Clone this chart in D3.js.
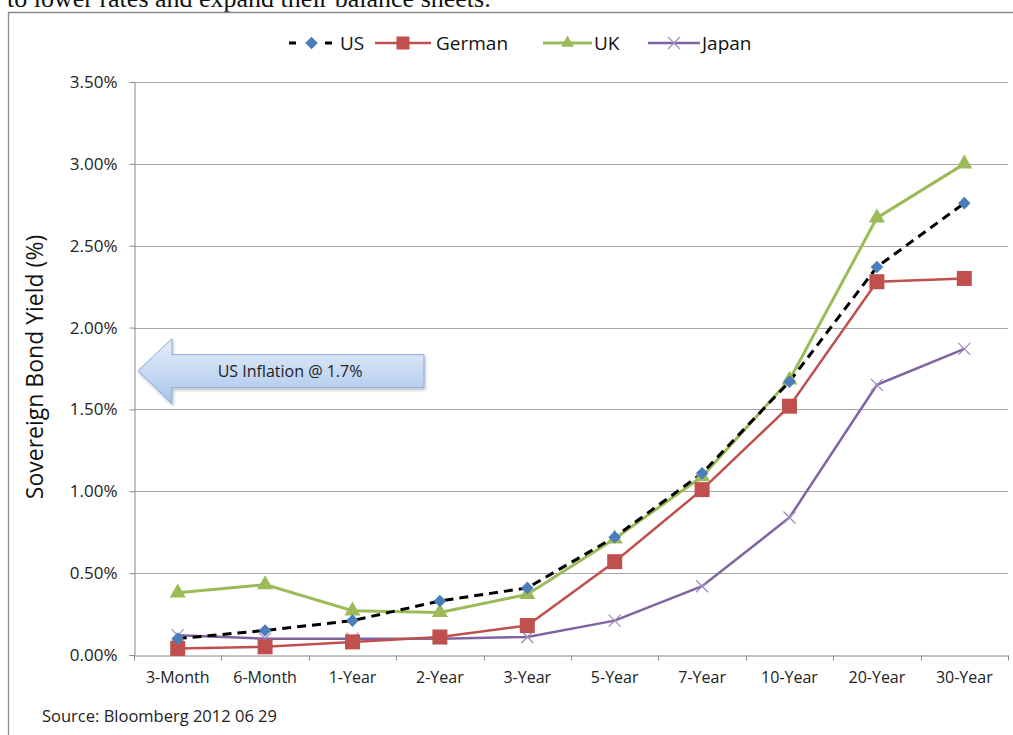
<!DOCTYPE html>
<html>
<head>
<meta charset="utf-8">
<script src="https://cdn.jsdelivr.net/npm/d3@7"></script>
<style>
  body { margin: 0; background: #fff; }
  svg { display: block; }
</style>
</head>
<body>
<svg id="chart" width="1013" height="735"></svg>
<script>
// chart data
const tenors = ["3-Month", "6-Month", "1-Year", "2-Year", "3-Year", "5-Year", "7-Year", "10-Year", "20-Year", "30-Year"];
const usYield = [0.10, 0.15, 0.21, 0.33, 0.41, 0.72, 1.11, 1.67, 2.37, 2.76];
const germanYield = [0.04, 0.05, 0.08, 0.11, 0.18, 0.57, 1.01, 1.52, 2.28, 2.30];
const ukYield = [0.38, 0.43, 0.27, 0.26, 0.37, 0.71, 1.09, 1.68, 2.67, 3.00];
const japanYield = [0.12, 0.10, 0.10, 0.10, 0.11, 0.21, 0.42, 0.84, 1.65, 1.87];
const yTicks = [0, 0.5, 1.0, 1.5, 2.0, 2.5, 3.0, 3.5];
const usInflation = 1.7;

const series = [
    { name: "US", values: usYield, line: "#000", width: 3, dash: "9,6", marker: "diamond", fill: "#4a7ebb" },
    { name: "German", values: germanYield, line: "#c0504d", width: 2.5, dash: null, marker: "square", fill: "#c0504d" },
    { name: "UK", values: ukYield, line: "#9bbb59", width: 3, dash: null, marker: "triangle", fill: "#9bbb59" },
    { name: "Japan", values: japanYield, line: "#8064a2", width: 2.5, dash: null, marker: "cross", fill: "#9f8cc0" }
];

const svg = d3.select("#chart");
const font = "'Open Sans', Lato, sans-serif";
const plot = { left: 134, right: 1008, top: 82, bottom: 655 };

const x = d3.scaleBand().domain(tenors).range([plot.left, plot.right]);
const y = d3.scaleLinear().domain([0, 3.5]).range([plot.bottom, plot.top]);

// leftover text from the page above the chart (clipped in the original too)
svg.append("text")
    .attr("x", 7).attr("y", 7)
    .style("font-family", "'Liberation Serif', 'DejaVu Serif', serif")
    .style("font-size", "26px").style("fill", "#111")
    .text("to lower rates and expand their balance sheets.");

// chart frame
svg.append("path")
    .attr("d", "M8.5,740 L8.5,12.5 L1020,12.5")
    .style("fill", "none").style("stroke", "#8a8a8a").style("stroke-width", 1.3);

// gridlines
svg.append("g").selectAll("line")
    .data(yTicks.slice(1))
    .join("line")
    .attr("x1", plot.left).attr("x2", plot.right)
    .attr("y1", d => Math.round(y(d)) + 0.5).attr("y2", d => Math.round(y(d)) + 0.5)
    .style("stroke", "#a6a6a6").style("stroke-width", 1);

// y axis
const yAxis = svg.append("g")
    .attr("transform", `translate(${plot.left + 0.5},0)`)
    .call(d3.axisLeft(y).tickValues(yTicks).tickFormat(d => d.toFixed(2) + "%").tickSize(5).tickPadding(12));
yAxis.select(".domain").style("stroke", "#8a8a8a");
yAxis.selectAll(".tick line").style("stroke", "#8a8a8a");
yAxis.selectAll("text").style("font-family", font).style("font-size", "17px").style("fill", "#222");

// x axis: labels at band centres, ticks at band edges
const xAxis = svg.append("g")
    .attr("transform", `translate(0,${Math.round(plot.bottom) + 0.5})`)
    .call(d3.axisBottom(x).tickSize(0).tickPadding(16));
xAxis.select(".domain").style("stroke", "#8a8a8a");
xAxis.selectAll("text").style("font-family", font).style("font-size", "16px").style("fill", "#222");
xAxis.selectAll(".edge")
    .data(tenors.map(t => x(t)).concat([plot.right]))
    .join("line")
    .attr("class", "edge")
    .attr("x1", d => Math.round(d) + 0.5).attr("x2", d => Math.round(d) + 0.5)
    .attr("y1", 0).attr("y2", 5)
    .style("stroke", "#8a8a8a");

// y title
svg.append("text")
    .attr("transform", "translate(43,367) rotate(-90)")
    .attr("text-anchor", "middle")
    .style("font-family", font).style("font-size", "23px").style("fill", "#111")
    .text("Sovereign Bond Yield (%)");

// source note
svg.append("text")
    .attr("x", 42).attr("y", 722)
    .style("font-family", font).style("font-size", "16.5px").style("fill", "#222")
    .text("Source: Bloomberg 2012 06 29");

// inflation arrow
const defs = svg.append("defs");
const grad = defs.append("linearGradient").attr("id", "arrowGrad")
    .attr("x1", 0).attr("y1", 0).attr("x2", 0).attr("y2", 1);
grad.append("stop").attr("offset", "0%").attr("stop-color", "#e4eefa");
grad.append("stop").attr("offset", "55%").attr("stop-color", "#c5d8f2");
grad.append("stop").attr("offset", "100%").attr("stop-color", "#a6c2ea");
const shadow = defs.append("filter").attr("id", "shadow").attr("x", "-10%").attr("y", "-20%").attr("width", "130%").attr("height", "150%");
shadow.append("feDropShadow").attr("dx", 1).attr("dy", 2).attr("stdDeviation", 1.5).attr("flood-color", "#000").attr("flood-opacity", 0.25);

// the hand-drawn arrow sits a few pixels above the exact 1.7% level
const ay = y(usInflation) - 6;
const tipX = plot.left + 4, headX = 172, endX = 424;
svg.append("path")
    .attr("d", `M${tipX},${ay} L${headX},${ay - 32} L${headX},${ay - 16} L${endX},${ay - 16} ` +
        `L${endX},${ay + 17} L${headX},${ay + 17} L${headX},${ay + 33} Z`)
    .attr("filter", "url(#shadow)")
    .style("fill", "url(#arrowGrad)").style("stroke", "#8aa8d6").style("stroke-width", 1);
svg.append("text")
    .attr("x", 290).attr("y", ay + 6)
    .attr("text-anchor", "middle")
    .style("font-family", font).style("font-size", "16px").style("fill", "#222")
    .text(`US Inflation @ ${usInflation}%`);

// markers
function drawMarker(sel, s, size) {
    if (s.marker === "diamond") {
        sel.append("path").attr("d", d3.symbol(d3.symbolSquare, size * size * 0.55)())
            .attr("transform", "rotate(45)").style("fill", s.fill);
    } else if (s.marker === "square") {
        sel.append("rect").attr("x", -size / 2).attr("y", -size / 2)
            .attr("width", size).attr("height", size).style("fill", s.fill);
    } else if (s.marker === "triangle") {
        sel.append("path").attr("d", d3.symbol(d3.symbolTriangle, size * size * 0.5)())
            .style("fill", s.fill);
    } else {
        const h = size / 2;
        sel.append("path").attr("d", `M${-h},${-h}L${h},${h}M${-h},${h}L${h},${-h}`)
            .style("stroke", s.fill).style("stroke-width", 1.3).style("fill", "none");
    }
}

const line = d3.line()
    .x((d, i) => x(tenors[i]) + x.bandwidth() / 2)
    .y(d => y(d));

const drawOrder = [series[3], series[1], series[2], series[0]];
drawOrder.forEach(s => {
    svg.append("path")
        .datum(s.values)
        .attr("d", line)
        .style("fill", "none").style("stroke", s.line).style("stroke-width", s.width)
        .style("stroke-dasharray", s.dash);
});
drawOrder.forEach(s => {
    const size = s.marker === "diamond" ? 12 : s.marker === "cross" ? 12 : 15;
    svg.append("g").selectAll("g")
        .data(s.values)
        .join("g")
        .attr("transform", (d, i) => `translate(${x(tenors[i]) + x.bandwidth() / 2},${y(d)})`)
        .each(function () { drawMarker(d3.select(this), s, size); });
});

// legend
const legendItems = [
    { s: series[0], x0: 289, x1: 334, tx: 340 },
    { s: series[1], x0: 375, x1: 431, tx: 436 },
    { s: series[2], x0: 543, x1: 592, tx: 594 },
    { s: series[3], x0: 648, x1: 700, tx: 702 }
];
const legend = svg.append("g");
legendItems.forEach(item => {
    const ly = 43;
    legend.append("line")
        .attr("x1", item.x0).attr("x2", item.x1).attr("y1", ly).attr("y2", ly)
        .style("stroke", item.s.line).style("stroke-width", item.s.width)
        .style("stroke-dasharray", item.s.dash ? "7,11" : null);
    const g = legend.append("g").attr("transform", `translate(${(item.x0 + item.x1) / 2},${ly})`);
    drawMarker(g, item.s, item.s.marker === "square" ? 13 : 12);
    legend.append("text")
        .attr("x", item.tx).attr("y", ly + 7)
        .style("font-family", font).style("font-size", "19px").style("fill", "#111")
        .text(item.s.name);
});
</script>
</body>
</html>
